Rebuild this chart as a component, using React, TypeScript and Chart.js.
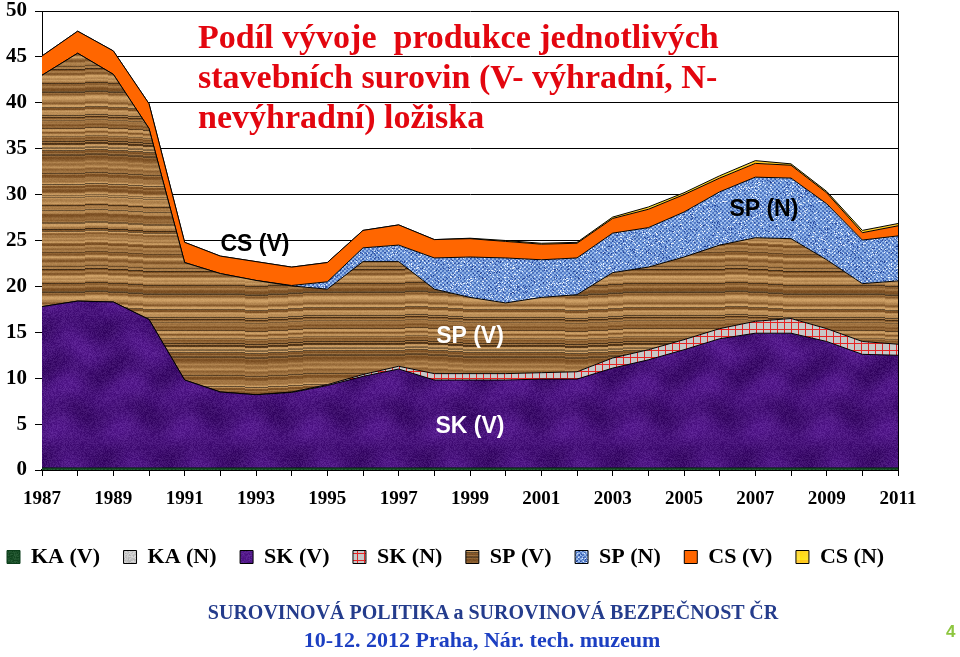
import React, { useEffect, useRef } from 'react';
import { Chart, registerables } from 'chart.js';

Chart.register(...registerables);

// ---------- data ----------
const years = [
  '1987', '1988', '1989', '1990', '1991', '1992', '1993', '1994', '1995', '1996', '1997', '1998', '1999',
  '2000', '2001', '2002', '2003', '2004', '2005', '2006', '2007', '2008', '2009', '2010', '2011',
];
const kaV = [0.2, 0.2, 0.2, 0.2, 0.2, 0.2, 0.2, 0.2, 0.2, 0.2, 0.2, 0.2, 0.2, 0.2, 0.2, 0.2, 0.2, 0.2, 0.2, 0.2, 0.2, 0.2, 0.2, 0.2, 0.2];
const kaN = [0, 0, 0, 0, 0, 0, 0, 0, 0, 0, 0, 0, 0, 0, 0, 0, 0, 0, 0, 0, 0, 0, 0, 0, 0];
const skV = [17.6, 18.2, 18.1, 16.2, 9.6, 8.3, 8.0, 8.25, 9.0, 10.0, 10.8, 9.6, 9.6, 9.6, 9.7, 9.7, 10.9, 11.8, 12.9, 14.1, 14.7, 14.7, 13.8, 12.4, 12.3];
const skN = [0, 0, 0, 0, 0, 0, 0, 0.05, 0.1, 0.2, 0.3, 0.7, 0.7, 0.7, 0.7, 0.8, 1.1, 1.1, 1.1, 1.1, 1.3, 1.6, 1.4, 1.4, 1.2];
const spV = [25.2, 27.0, 24.8, 20.8, 12.8, 12.9, 12.45, 11.55, 10.4, 12.3, 11.4, 9.2, 8.3, 7.7, 8.2, 8.4, 9.3, 9.0, 9.0, 9.1, 9.1, 8.7, 7.5, 6.3, 6.9];
const spN = [0, 0, 0, 0, 0, 0, 0, 0.05, 0.8, 1.5, 1.8, 3.4, 4.4, 4.9, 4.1, 4.0, 4.3, 4.3, 4.9, 5.8, 6.6, 6.6, 6.1, 4.75, 4.9];
const csV = [2.1, 2.4, 2.55, 2.7, 2.2, 1.9, 2.05, 2.0, 2.1, 1.9, 2.2, 2.0, 2.0, 1.8, 1.7, 1.6, 1.6, 2.0, 1.9, 1.5, 1.5, 1.4, 1.2, 0.8, 1.1];
const csN = [0, 0, 0, 0, 0, 0, 0, 0, 0, 0, 0, 0, 0.05, 0.1, 0.1, 0.1, 0.15, 0.25, 0.2, 0.25, 0.3, 0.15, 0.15, 0.25, 0.25];

const seriesLabels = ['KA (V)', 'KA (N)', 'SK (V)', 'SK (N)', 'SP (V)', 'SP (N)', 'CS (V)', 'CS (N)'];
const seriesValues = [kaV, kaN, skV, skN, spV, spN, csV, csN];

const yMin = 0;
const yMax = 50;
const yStep = 5;

const titleLines = [
  'Podíl vývoje  produkce jednotlivých',
  'stavebních surovin (V- výhradní, N-',
  'nevýhradní) ložiska',
];
const footerLine1 = 'SUROVINOVÁ POLITIKA a SUROVINOVÁ BEZPEČNOST ČR';
const footerLine2 = '10-12. 2012 Praha, Nár. tech. muzeum';
const pageNumber = '4';

// in-chart labels (category index, value)
const areaLabels = [
  { text: 'CS (V)', x: 5.97, y: 24.5, color: '#000000' },
  { text: 'SP (N)', x: 20.24, y: 28.4, color: '#000000' },
  { text: 'SP (V)', x: 12.0, y: 14.5, color: '#ffffff' },
  { text: 'SK (V)', x: 12.0, y: 4.7, color: '#ffffff' },
];

const SERIF = '"Liberation Serif", "Times New Roman", serif';
const SANS = '"Liberation Sans", Arial, sans-serif';

// ---------- textures ----------
function mulberry32(a: number) {
  return function () {
    a |= 0;
    a = (a + 0x6d2b79f5) | 0;
    let t = Math.imul(a ^ (a >>> 15), 1 | a);
    t = (t + Math.imul(t ^ (t >>> 7), 61 | t)) ^ t;
    return ((t ^ (t >>> 14)) >>> 0) / 4294967296;
  };
}
const clamp = (v: number) => Math.max(0, Math.min(255, Math.round(v)));

function texture(w: number, h: number, fn: (x: number, y: number) => number[]) {
  const c = document.createElement('canvas');
  c.width = w;
  c.height = h;
  const g = c.getContext('2d')!;
  const img = g.createImageData(w, h);
  for (let y = 0; y < h; y++) {
    for (let x = 0; x < w; x++) {
      const col = fn(x, y);
      const i = (y * w + x) * 4;
      img.data[i] = clamp(col[0]);
      img.data[i + 1] = clamp(col[1]);
      img.data[i + 2] = clamp(col[2]);
      img.data[i + 3] = 255;
    }
  }
  g.putImageData(img, 0, 0);
  return c;
}

function buildPatterns(ctx: CanvasRenderingContext2D) {
  const pat = (c: HTMLCanvasElement) => ctx.createPattern(c, 'repeat') as CanvasPattern;

  // wood (SP V)
  const W = 320, H = 200;
  const R = mulberry32(11);
  let prof = Array.from({ length: H }, () => R());
  {
    const p = prof;
    prof = p.map((_, i) => (p[(i - 1 + H) % H] + 2 * p[i] + p[(i + 1) % H]) / 4);
  }
  const streak = Array.from({ length: H }, () => (R() < 0.12 ? 0.5 + 0.5 * R() : 0));
  const wood = texture(W, H, (x, y) => {
    const wob = 1.4 * Math.sin(2 * Math.PI * (x / W) + 0.4) + 0.7 * Math.sin(2 * Math.PI * (3 * x / W) + 1.7);
    const yy = (((Math.round(y + wob)) % H) + H) % H;
    const t = Math.min(1, Math.max(0, (prof[yy] - 0.25) / 0.5));
    const light = [204, 158, 100], dark = [124, 80, 36];
    const s = streak[yy];
    const n = (R() - 0.5) * 12;
    return light.map((l, i) => (dark[i] + (l - dark[i]) * t) * (1 - 0.55 * s) + n);
  });

  // purple (SK V)
  const P = mulberry32(23);
  const purple = texture(128, 128, (x, y) => {
    const b = 0.5
      + 0.25 * Math.sin(2 * Math.PI * (2 * x / 128) + 1.3 + 1.5 * Math.sin(2 * Math.PI * y / 128))
      + 0.25 * Math.sin(2 * Math.PI * (3 * y / 128) + 0.7 + Math.cos(2 * Math.PI * 2 * x / 128));
    const n = (P() - 0.5) * 26;
    const dark = [58, 12, 104], light = [86, 28, 142];
    return dark.map((d, i) => d + (light[i] - d) * b + n);
  });

  // blue weave (SP N)
  const B = mulberry32(37);
  const blue = texture(96, 96, (x, y) => {
    const cx = Math.floor(x / 2), cy = Math.floor(y / 2);
    const thread = (cx + cy) & 1;
    const r = B();
    let c = thread ? [146, 180, 230] : [82, 122, 198];
    if (r < 0.07) c = [228, 236, 250];
    else if (r > 0.95) c = [44, 74, 156];
    const n = (B() - 0.5) * 26;
    return c.map((v) => v + n);
  });

  // grey with red grid (SK N)
  const grid = texture(7, 7, (x, y) => (x === 0 || y === 0 ? [228, 36, 36] : [200, 200, 200]));

  const G = mulberry32(51);
  const green = texture(16, 16, () => {
    const n = (G() - 0.5) * 30;
    return [28 + n, 80 + n, 42 + n];
  });
  const greyN = texture(16, 16, () => {
    const n = (G() - 0.5) * 40;
    return [200 + n, 200 + n, 200 + n];
  });
  const yellow = texture(16, 16, (x, y) => [255, 200 + y * 2, 20 + x * 3]);

  return [pat(green), pat(greyN), pat(purple), pat(grid), pat(wood), pat(blue), '#ff6600', pat(yellow)];
}

// ---------- plugins ----------
const areaLabelPlugin = {
  id: 'areaLabels',
  afterDatasetsDraw(chart: any) {
    const { ctx, scales } = chart;
    const xs = scales.x, ys = scales.y;
    ctx.save();
    ctx.font = `bold 23px ${SANS}`;
    ctx.textAlign = 'center';
    ctx.textBaseline = 'middle';
    areaLabels.forEach((l) => {
      ctx.fillStyle = l.color;
      ctx.fillText(l.text, xs.getPixelForValue(l.x), ys.getPixelForValue(l.y));
    });
    ctx.restore();
  },
};

export default function App() {
  const ref = useRef<HTMLCanvasElement>(null);

  useEffect(() => {
    const canvas = ref.current!;
    const ctx = canvas.getContext('2d')!;
    const fills = buildPatterns(ctx);

    const datasets = seriesLabels.map((label, i) => ({
      label,
      data: seriesValues[i],
      backgroundColor: fills[i],
      borderColor: i === 0 ? '#0b3d1a' : '#000000',
      borderWidth: 1,
      fill: i === 0 ? 'origin' : '-1',
      pointRadius: 0,
      tension: 0,
    }));

    const chart = new Chart(ctx, {
      type: 'line',
      data: { labels: years, datasets: datasets as any },
      options: {
        animation: false,
        responsive: false,
        devicePixelRatio: 1,
        layout: { padding: { left: 0, right: 0, top: 11, bottom: 79 } },
        plugins: {
          tooltip: { enabled: false },
          title: { display: false },
          legend: {
            display: true,
            position: 'bottom',
            align: 'start',
            labels: {
              boxWidth: 13,
              boxHeight: 13,
              padding: 7,
              color: '#000',
              font: { family: SERIF, size: 22, weight: 'bold' },
              generateLabels: (ch: any) =>
                (Chart.defaults.plugins.legend.labels as any).generateLabels(ch).map((l: any) => ({
                  ...l,
                  text: l.text + '   ',
                })),
            },
          },
        },
        scales: {
          x: {
            type: 'category',
            offset: false,
            grid: { display: true, drawOnChartArea: false, drawTicks: true, tickLength: 6, color: '#000', offset: false },
            border: { display: true, color: '#000', width: 2 },
            ticks: {
              autoSkip: false,
              maxRotation: 0,
              padding: 12,
              color: '#000',
              font: { family: SERIF, size: 19, weight: 'bold' },
              callback: (_v: any, idx: number) => (idx % 2 === 0 ? years[idx] : ''),
            },
            afterFit: (s: any) => {
              s.height = 69;
            },
          },
          y: {
            type: 'linear',
            position: 'left',
            stacked: true,
            min: yMin,
            max: yMax,
            grid: { color: '#000', lineWidth: 1, tickLength: 7, drawTicks: true },
            border: { display: true, color: '#000', width: 1 },
            ticks: {
              stepSize: yStep,
              padding: 8,
              color: '#000',
              font: { family: SERIF, size: 21, weight: 'bold', lineHeight: 0.25 },
            },
            afterFit: (s: any) => {
              s.width = 42;
            },
          },
          yR: {
            type: 'linear',
            position: 'right',
            min: yMin,
            max: yMax,
            grid: { display: false, drawTicks: false },
            ticks: { display: false },
            border: { display: true, color: '#000', width: 1 },
            afterFit: (s: any) => {
              s.width = 62;
            },
          },
        },
      } as any,
      plugins: [areaLabelPlugin],
    });

    return () => chart.destroy();
  }, []);

  return (
    <div style={{ position: 'absolute', left: 0, top: 0, width: 960, height: 657, background: '#fff', overflow: 'hidden' }}>
      <canvas ref={ref} width={960} height={657} style={{ position: 'absolute', left: 0, top: 0, width: 960, height: 657 }} />
      <div
        style={{
          position: 'absolute',
          left: 198,
          top: 17,
          fontFamily: SERIF,
          fontWeight: 'bold',
          fontSize: 34,
          lineHeight: '40px',
          color: '#e3060f',
          whiteSpace: 'pre',
        }}
      >
        {titleLines.map((t, i) => (
          <div key={i}>{t}</div>
        ))}
      </div>
      <div
        style={{
          position: 'absolute',
          left: 0,
          width: 986,
          top: 600,
          textAlign: 'center',
          fontFamily: SERIF,
          fontWeight: 'bold',
          fontSize: 20,
          lineHeight: '24px',
          color: '#243c8c',
          whiteSpace: 'pre',
        }}
      >
        {footerLine1}
      </div>
      <div
        style={{
          position: 'absolute',
          left: 0,
          width: 964,
          top: 627,
          textAlign: 'center',
          fontFamily: SERIF,
          fontWeight: 'bold',
          fontSize: 22,
          lineHeight: '26px',
          color: '#1c3fc2',
          whiteSpace: 'pre',
        }}
      >
        {footerLine2}
      </div>
      <div
        style={{
          position: 'absolute',
          left: 946,
          top: 622,
          fontFamily: SANS,
          fontWeight: 'bold',
          fontSize: 17,
          lineHeight: '20px',
          color: '#8dc63f',
        }}
      >
        {pageNumber}
      </div>
    </div>
  );
}
